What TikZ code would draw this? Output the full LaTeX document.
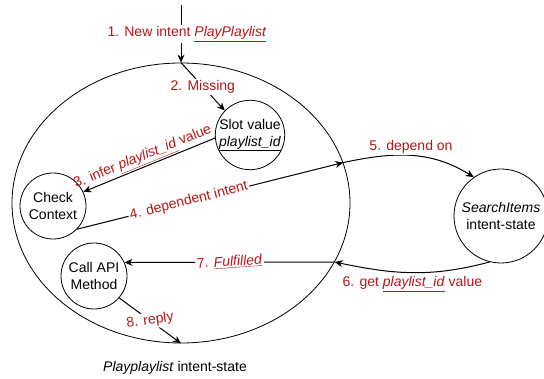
\documentclass[tikz,border=0pt]{standalone}
\usepackage{fontspec}
\setmainfont{Liberation Sans}
\usetikzlibrary{arrows.meta,shapes.geometric}
\definecolor{lblred}{RGB}{176,24,28}
\tikzset{
	every node/.style={font=\fontsize{14}{17}\selectfont},
	state/.style={draw,circle,minimum size=66pt,inner sep=0pt,align=center,line width=0.8pt},
	lbl/.style={text=lblred,fill=white,inner sep=1.5pt},
	flow/.style={line width=1pt,-{Stealth[length=8pt,width=7pt]}}
}

\begin{document}
\begin{tikzpicture}[x=1pt,y=1pt]
			\useasboundingbox (0,0) rectangle (544,-379);
			\node[draw,ellipse,minimum width=338pt,minimum height=280pt,line width=0.8pt] (big) at (181,-203) {};
			\node[state] (slot) at (250,-135) {Slot value\\\underline{\textit{playlist\_id}}};
			\node[state] (check) at (53,-206) {Check\\Context};
			\node[state] (call) at (94,-276) {Call API\\Method};
			\node[state,minimum size=94pt] (search) at (501,-216) {\textit{SearchItems}\\intent-state};
			\node (title) at (175,-368) {\textit{Playplaylist} intent-state};
			\coordinate (start) at (181,-5);
			
			\draw[flow] (start) -- node[lbl,xshift=6pt] {1. New intent \underline{\textit{PlayPlaylist}}} (big.90);
			\draw[flow] (big.90) -- node[lbl] {2. Missing} (slot.136);
			\draw[flow] (slot.185) -- node[text=lblred,inner sep=1pt,sloped,above,pos=0.52] {3. infer \underline{\textit{playlist\_id}} value} (check.25);
			\draw[flow] (check.-44) -- node[lbl,sloped,pos=0.42] {4. dependent intent} (big.14);
			\draw[flow] (big.14) to[out=12,in=148] node[lbl,above] {5. depend on} (search.125);
			\draw[flow] (search.256) to[out=195,in=-12] node[lbl,below,yshift=-2pt] {6. get \underline{\textit{playlist\_id}} value} (big.-21);
			\draw[flow] (big.-21) -- node[lbl,rotate=4] {7. \underline{\textit{Fulfilled}}} (call.24);
			\draw[flow] (call.-41) -- node[lbl,rotate=8] {8. reply} (big.-90);
		\end{tikzpicture}
\end{document}
